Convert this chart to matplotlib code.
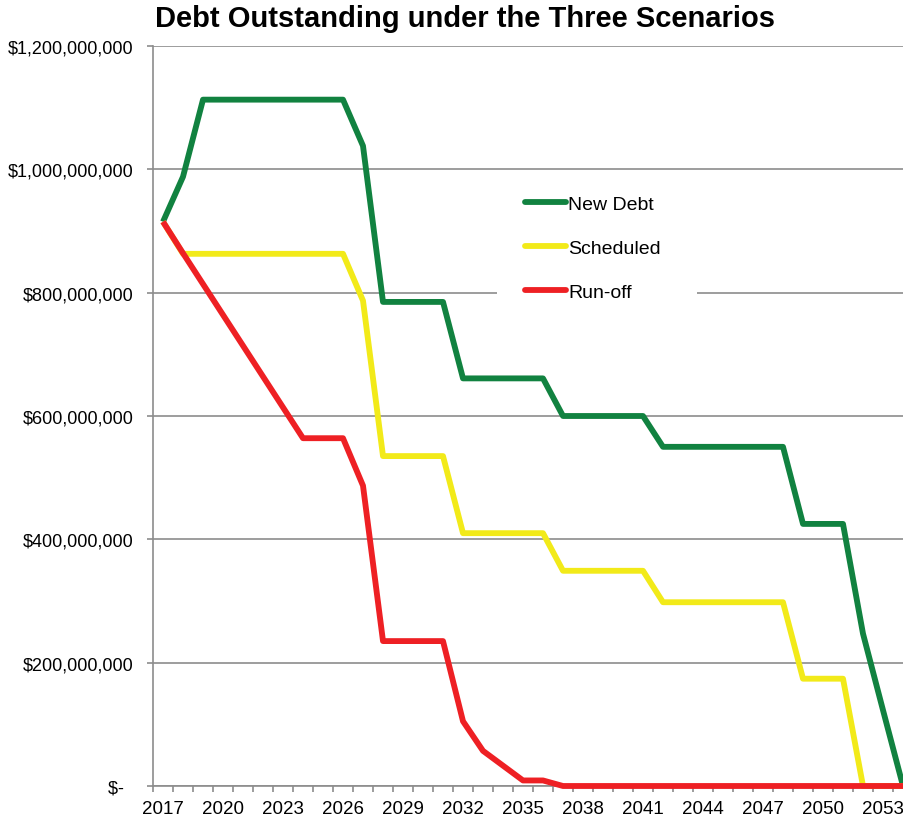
#!/usr/bin/env python3

import matplotlib
matplotlib.use('Agg')
import matplotlib.pyplot as plt
from matplotlib.patches import Rectangle
from matplotlib.ticker import FixedLocator, FuncFormatter
import numpy as np

plt.rcParams['font.family'] = ['Liberation Sans', 'DejaVu Sans']

years = list(range(2017, 2055))

# debt outstanding, millions of dollars
new_debt = [915, 988, 1113, 1113, 1113, 1113, 1113, 1113, 1113, 1113,
            1038, 785, 785, 785, 785, 661, 661, 661, 661, 661,
            600, 600, 600, 600, 600, 550, 550, 550, 550, 550,
            550, 550, 425, 425, 425, 247, 123, 0]
scheduled = [915, 863, 863, 863, 863, 863, 863, 863, 863, 863,
             787, 535, 535, 535, 535, 410, 410, 410, 410, 410,
             349, 349, 349, 349, 349, 298, 298, 298, 298, 298,
             298, 298, 174, 174, 174, 0, 0, 0]
run_off = [915, 864, 814, 764, 714, 664, 614, 564, 564, 564,
           487, 235, 235, 235, 235, 105, 57, 33, 9, 9,
           0, 0, 0, 0, 0, 0, 0, 0, 0, 0,
           0, 0, 0, 0, 0, 0, 0, 0]

series_names = ['New Debt', 'Scheduled', 'Run-off']
series_colors = ['#118240', '#F2EA19', '#EE2024']

grid_color = '#8c8c8c'
W, H = 904, 820


def money(v, _pos):
    if v == 0:
        return '$-  '
    return '${:,.0f}'.format(v)


def main():
    fig = plt.figure(figsize=(W / 100, H / 100), dpi=100)
    ax = fig.add_axes([153 / W, 33 / H, 760 / W, 740 / H])

    x = np.array(years)
    for vals, name, color in zip([new_debt, scheduled, run_off], series_names, series_colors):
        ax.plot(x, np.array(vals) * 1e6, color=color, lw=4.2, label=name,
                solid_joinstyle='round', solid_capstyle='butt', clip_on=False, zorder=3)

    ax.set_xlim(2016.5, 2054.5)
    ax.set_ylim(0, 1.2e9)

    ax.yaxis.set_major_locator(FixedLocator(np.arange(0, 1.21e9, 2e8)))
    ax.yaxis.set_major_formatter(FuncFormatter(money))
    ax.grid(axis='y', color=grid_color, lw=1.2, zorder=0)
    ax.set_axisbelow(True)

    # tick marks on the year boundaries, labels every third year
    ax.xaxis.set_major_locator(FixedLocator(np.arange(2016.5, 2055, 1)))
    ax.xaxis.set_major_formatter(FuncFormatter(lambda v, p: ''))
    ax.xaxis.set_minor_locator(FixedLocator(np.arange(2017, 2055, 3)))
    ax.xaxis.set_minor_formatter(FuncFormatter(lambda v, p: '{:.0f}'.format(v)))
    ax.tick_params(axis='x', which='major', length=4, width=1.2, color=grid_color)
    ax.tick_params(axis='x', which='minor', length=0, pad=10, labelsize=13.5)
    ax.tick_params(axis='y', length=4, width=1.2, color=grid_color, pad=10, labelsize=13)

    for side in ['top', 'right']:
        ax.spines[side].set_visible(False)
    for side in ['left', 'bottom']:
        ax.spines[side].set_color(grid_color)
        ax.spines[side].set_linewidth(1.2)

    # white block behind the legend, hides the gridline there
    ax.add_patch(Rectangle((497 / W, 1 - 308 / H), 200 / W, 128 / H,
                           transform=fig.transFigure, facecolor='white',
                           edgecolor='none', zorder=2, clip_on=False))

    leg = ax.legend(loc='upper left', bbox_to_anchor=(497 / W, 1 - 168 / H),
                    bbox_transform=fig.transFigure, fontsize=14, frameon=False,
                    handlelength=2.1, handletextpad=0.1, labelspacing=1.36,
                    borderpad=1.45, borderaxespad=0)
    for line in leg.get_lines():
        line.set_solid_capstyle('round')
        line.set_linewidth(4.2)

    fig.text(465 / W, 1 - 27 / H, 'Debt Outstanding under the Three Scenarios',
             ha='center', va='baseline', fontsize=21, fontweight='bold')

    plt.savefig('out.png', dpi=100)
    plt.close()


if __name__ == "__main__":
    main()
